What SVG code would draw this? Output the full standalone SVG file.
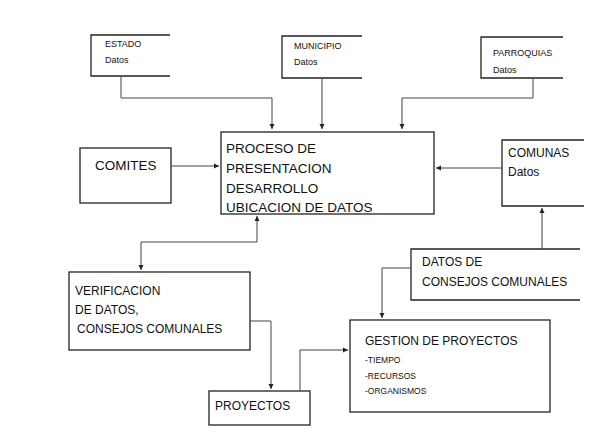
<svg xmlns="http://www.w3.org/2000/svg" width="600" height="434" viewBox="0 0 600 434">
<style>
.b{fill:none;stroke:#222;stroke-width:1.3}
.c{fill:none;stroke:#444;stroke-width:1}
text{font-family:"Liberation Sans",Arial,sans-serif;fill:#111}
.s{font-size:9px}.m{font-size:12px}.l{font-size:13.5px}.x{font-size:8.5px}
</style>
<defs><marker id="a" markerWidth="6" markerHeight="6" refX="5" refY="3" orient="auto-start-reverse"><path d="M0,0.5L5,3L0,5.5z" fill="#222"/></marker></defs>
<rect width="600" height="434" fill="#fff"/>
<g id="estado"><path class="b" d="M170,35H91V76H170"/><text class="s" x="105" y="47">ESTADO</text><text class="s" x="105" y="63">Datos</text></g>
<g id="municipio"><path class="b" d="M362,36H282V78H362"/><text class="s" x="294" y="49">MUNICIPIO</text><text class="s" x="294" y="65">Datos</text></g>
<g id="parroquias"><path class="b" d="M563,37H481V78H563"/><text class="s" x="493" y="56">PARROQUIAS</text><text class="s" x="493" y="73">Datos</text></g>
<g id="proceso"><rect class="b" x="221" y="132" width="213" height="82"/><text class="l" x="226" y="153">PROCESO DE</text><text class="l" x="226" y="173">PRESENTACION</text><text class="l" x="226" y="193">DESARROLLO</text><text class="l" x="226" y="212">UBICACION DE DATOS</text></g>
<g id="comites"><rect class="b" x="80" y="148" width="91" height="55"/><text class="l" x="95" y="170">COMITES</text></g>
<g id="comunas"><path class="b" d="M584,140H502V206H584"/><text class="m" x="508" y="157">COMUNAS</text><text class="m" x="508" y="176">Datos</text></g>
<g id="datos"><path class="b" d="M580,249H411V300H580"/><text class="m" x="422" y="266">DATOS DE</text><text class="m" x="422" y="286">CONSEJOS COMUNALES</text></g>
<g id="verificacion"><rect class="b" x="69" y="272" width="181" height="78"/><text class="m" x="75" y="295">VERIFICACION</text><text class="m" x="75" y="314">DE DATOS,</text><text class="m" x="77" y="333"> CONSEJOS COMUNALES</text></g>
<g id="proyectos"><rect class="b" x="209" y="391" width="101" height="34"/><text class="m" x="215" y="410">PROYECTOS</text></g>
<g id="gestion"><rect class="b" x="350" y="320" width="200" height="92"/><text class="m" x="365" y="345">GESTION DE PROYECTOS</text><text class="x" x="365" y="363">-TIEMPO</text><text class="x" x="365" y="379">-RECURSOS</text><text class="x" x="365" y="394">-ORGANISMOS</text></g>
<g id="connectors">
<path class="c" d="M121,76V98H272V129" marker-end="url(#a)"/>
<path class="c" d="M322,78V129" marker-end="url(#a)"/>
<path class="c" d="M533,78V98H402V129" marker-end="url(#a)"/>
<path class="c" d="M171,166H219" marker-end="url(#a)"/>
<path class="c" d="M502,168H436" marker-end="url(#a)"/>
<path class="c" d="M257,216V242H141V270" marker-start="url(#a)" marker-end="url(#a)"/>
<path class="c" d="M542,249V208" marker-end="url(#a)"/>
<path class="c" d="M411,268H382V318" marker-end="url(#a)"/>
<path class="c" d="M250,321H271V389" marker-end="url(#a)"/>
<path class="c" d="M300,391V350H348" marker-end="url(#a)"/>
</g>
</svg>
